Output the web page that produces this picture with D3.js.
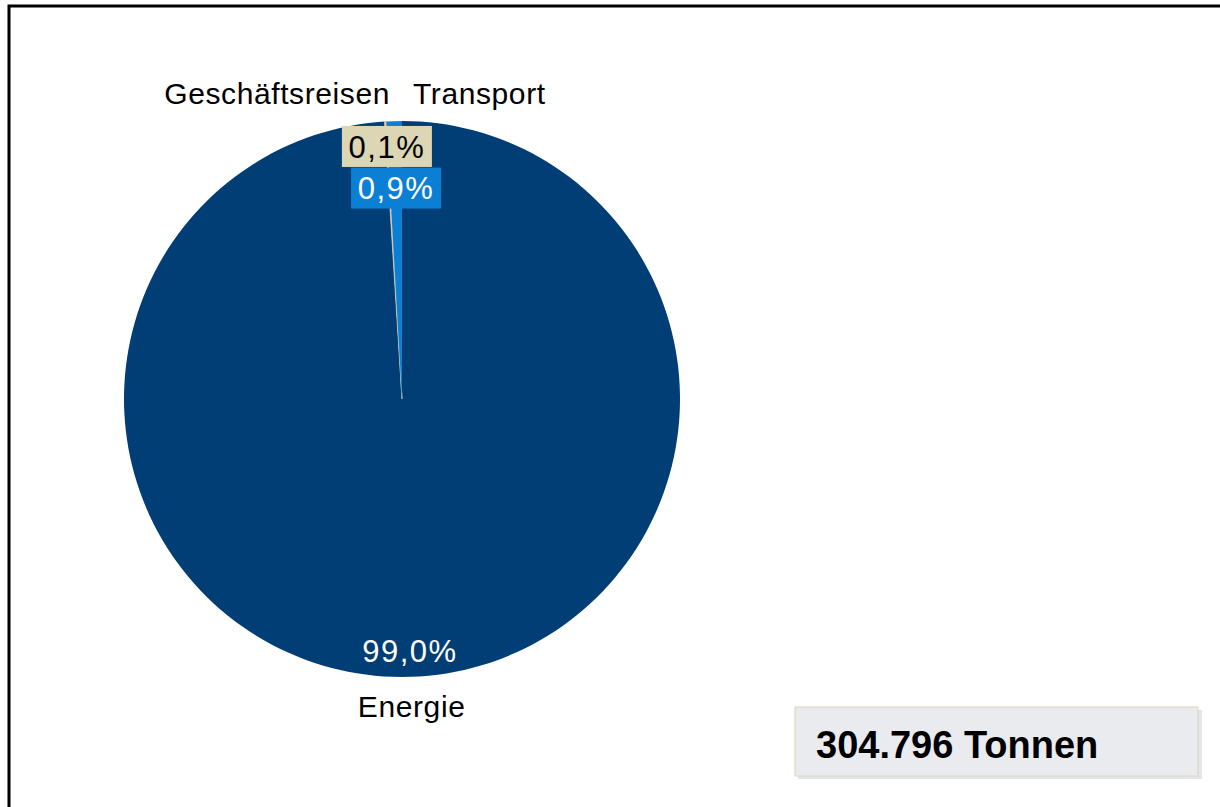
<!DOCTYPE html>
<html>
<head>
<meta charset="utf-8">
<script src="https://cdn.jsdelivr.net/npm/d3@7"></script>
<style>
  html, body { margin: 0; padding: 0; background: #fff; overflow: hidden; }
  svg { display: block; }
  text { font-family: "Liberation Sans", Arial, sans-serif; }
</style>
</head>
<body>
<script>
// data
var categories = ["Energie", "Geschäftsreisen", "Transport"];
var shares = [99.0, 0.1, 0.9];
var shareLabels = ["99,0%", "0,1%", "0,9%"];
var totalLabel = "304.796 Tonnen";

var colors = ["#013E75", "#DDD6B4", "#0A7FD3"];
var labelText = ["#ffffff", "#000000", "#ffffff"];

var w = 1220, h = 807;
var svg = d3.select("body").append("svg")
    .attr("width", w)
    .attr("height", h);

// outer frame (only left and top edges fall inside the picture)
svg.append("rect")
    .attr("x", 9).attr("y", 6)
    .attr("width", w + 40).attr("height", h + 40)
    .style("fill", "none")
    .style("stroke", "#000")
    .style("stroke-width", 3);

var cx = 402, cy = 399, r = 278;
var g = svg.append("g").attr("transform", "translate(" + cx + "," + cy + ")");

var data = categories.map(function(c, i){
    return {name: c, value: shares[i], label: shareLabels[i], color: colors[i], text: labelText[i]};
});

var pie = d3.pie().sort(null).value(function(d){ return d.value; });
var arcs = pie(data);
var arc = d3.arc().innerRadius(0).outerRadius(r);

g.selectAll(".slice")
    .data(arcs)
    .enter()
    .append("path")
    .attr("class", "slice")
    .attr("d", arc)
    .style("fill", function(d){ return d.data.color; })
    .style("stroke", function(d){ return d.index === 1 ? "#c9c2a4" : "none"; })
    .style("stroke-width", 0.8);

function mid(d){ return (d.startAngle + d.endAngle) / 2; }
function pt(d, rad){ var a = mid(d); return [rad * Math.sin(a), -rad * Math.cos(a)]; }

// percentage label radius per slice
var valueRadius = [252, 253, 211];
var nameRadius = [307, 306, 306];
var fs = 30;

var labels = g.selectAll(".val")
    .data(arcs)
    .enter()
    .append("g")
    .attr("class", "val")
    .attr("transform", function(d){
        var p = pt(d, valueRadius[d.index]);
        return "translate(" + p[0] + "," + p[1] + ")";
    });

labels.filter(function(d){ return d.index > 0; })
    .append("rect")
    .attr("x", -45).attr("y", -20.5)
    .attr("width", 90).attr("height", 41)
    .style("fill", function(d){ return d.data.color; });

labels.append("text")
    .attr("text-anchor", "middle")
    .attr("dy", "0.36em")
    .style("font-size", "31px")
    .style("letter-spacing", "1.5px")
    .style("fill", function(d){ return d.data.text; })
    .text(function(d){ return d.data.label; });

// category names
g.selectAll(".name")
    .data(arcs)
    .enter()
    .append("text")
    .attr("class", "name")
    .attr("x", function(d){
        if (d.index === 1) return -12;
        if (d.index === 2) return 11;
        return pt(d, nameRadius[d.index])[0];
    })
    .attr("y", function(d){ return pt(d, nameRadius[d.index])[1]; })
    .attr("dy", "0.36em")
    .attr("text-anchor", function(d){
        return d.index === 1 ? "end" : d.index === 2 ? "start" : "middle";
    })
    .style("font-size", fs + "px")
    .style("letter-spacing", "0.6px")
    .style("fill", "#000")
    .text(function(d){ return d.data.name; });

// total box
var box = svg.append("g").attr("transform", "translate(795,707)");
box.append("rect")
    .attr("x", 3).attr("y", 3)
    .attr("width", 404).attr("height", 69)
    .style("fill", "#E4E5EA");
box.append("rect")
    .attr("x", 0).attr("y", 0)
    .attr("width", 403).attr("height", 69)
    .style("fill", "#EAEBEF")
    .style("stroke", "#DDD6B4")
    .style("stroke-width", 1);
box.append("text")
    .attr("x", 21).attr("y", 51)
    .style("font-size", "38px")
    .style("font-weight", "bold")
    .style("fill", "#000")
    .text(totalLabel);
</script>
</body>
</html>
